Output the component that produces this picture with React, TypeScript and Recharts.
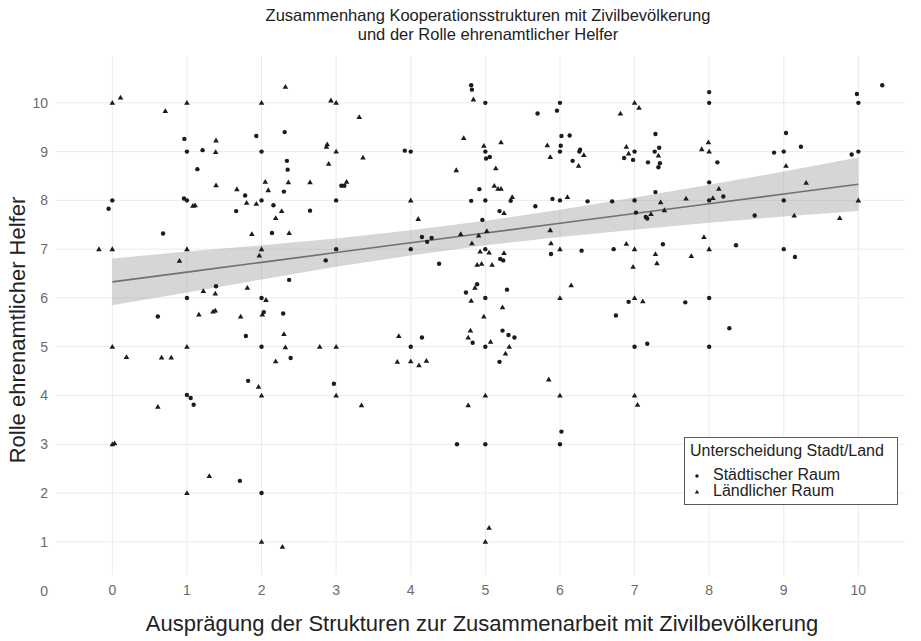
import React from "react";
import { ComposedChart, Scatter, Area, Line, XAxis, YAxis, CartesianGrid } from "recharts";

// axis ticks
const xTicks = [0, 1, 2, 3, 4, 5, 6, 7, 8, 9, 10];
const yTicks = [0, 1, 2, 3, 4, 5, 6, 7, 8, 9, 10];
const yGrid = [1, 2, 3, 4, 5, 6, 7, 8, 9, 10];

// Städtischer Raum (circles): [x, y]
const staedtisch: [number, number][] = [
  [0.965, 9.26], [1.93, 9.32], [2.31, 9.4], [1, 9], [1.21, 9.03], [2, 9],
  [1.14, 8.64], [2.34, 8.81], [2.35, 8.63], [2.3, 8.18], [3.07, 8.3], [3.11, 8.3],
  [1.78, 8.1], [0, 8], [-0.05, 7.83], [0.96, 8.04], [1, 8], [1.66, 7.78],
  [2, 8], [2.16, 7.9], [2.65, 7.79], [3, 8], [0.68, 7.32], [2.14, 7.33],
  [4.81, 10.36], [4.82, 10.27], [5, 10], [6, 10], [5.96, 9.84], [5.7, 9.78],
  [6.02, 9.32], [6.13, 9.33], [5, 9], [5.01, 8.86], [5.06, 8.89], [6.01, 9.12],
  [6, 9], [6.26, 9.0], [6.27, 9.04], [6.17, 8.81], [3.92, 9.02], [4, 9],
  [6.86, 8.87], [4.92, 8.23], [5.34, 7.99], [4.81, 7.99], [5, 8], [5.67, 7.88],
  [5.9, 8.03], [6, 8], [6.37, 7.98], [6.7, 7.98], [5.19, 7.78], [4.96, 7.6],
  [4.15, 7.25], [4.28, 7.23],
  [8, 10.22], [8, 10], [10.32, 10.36], [9.98, 10.18], [10, 10], [7.28, 9.36],
  [7, 9], [6.98, 8.83], [7.27, 9.0], [7.33, 9.08], [7.18, 8.78], [7.34, 8.76],
  [7.32, 8.68], [8.11, 8.78], [8.87, 8.98], [9, 9], [9.03, 9.38], [9.23, 9.1],
  [9.91, 8.94], [10, 9], [8, 8.37], [7.28, 8.17], [8.19, 8.08], [8, 8],
  [7, 8], [7.02, 7.75], [7.15, 7.66], [7.17, 7.63], [8.61, 7.69], [9, 8],
  [3, 7], [2.86, 6.77], [2.37, 6.37], [1.39, 6.24], [1, 6], [2, 6],
  [0.61, 5.62], [2.03, 5.71], [2.29, 5.68], [1.79, 5.22], [2, 5], [2.39, 4.77],
  [1.82, 4.3], [1, 4.01], [1.05, 3.95], [1.09, 3.81], [2.97, 4.24],
  [4.22, 7.15], [4, 7], [5, 7], [5.2, 6.8], [5.24, 6.77], [4.38, 6.7],
  [5.88, 6.9], [6.29, 6.97], [6.72, 7.0], [4.89, 6.28], [4.74, 6.11], [5, 6],
  [5.29, 6.17], [6.92, 5.92], [6.75, 5.64], [4.15, 5.19], [4, 5], [4.83, 5.08],
  [5, 5], [5.23, 5.33], [5.31, 5.24], [5.39, 5.19], [5.19, 4.69],
  [7.38, 7.1], [8.36, 7.08], [9, 7], [9.15, 6.84], [7.68, 5.91], [8, 6],
  [8.27, 5.38], [7, 5], [7.17, 5.06], [8, 5],
  [1.71, 2.25], [2, 2], [4.62, 3], [5, 3], [6, 3], [6.02, 3.26],
];

// Ländlicher Raum (triangles): [x, y]
const laendlich: [number, number][] = [
  [0, 10], [0.11, 10.11], [0.71, 9.83], [1, 10], [2, 10], [2.32, 10.33],
  [2.93, 10.05], [3, 10], [3.31, 9.71], [1.39, 9.23], [1.385, 8.99], [2.87, 9.1],
  [2.88, 9.15], [3, 9], [2.9, 8.75], [1.39, 8.31], [1.67, 8.23], [2.05, 8.38],
  [2.09, 8.21], [2.36, 8.37], [2.65, 8.37], [3.14, 8.38], [1.08, 7.89], [1.11, 7.9],
  [1.8, 7.95], [1.93, 7.93], [2.27, 7.78], [2.19, 7.64], [1.87, 7.31], [2.37, 7.33],
  [3.36, 8.88], [4.84, 10.07], [6.81, 9.78], [4.71, 9.28], [5.21, 9.19], [4.98, 9.12],
  [5.83, 9.13], [5.87, 8.89], [6.32, 8.93], [6.25, 8.71], [4.61, 8.62], [5.14, 8.66],
  [6.89, 9.1], [6.92, 8.96], [5.12, 8.3], [5.17, 8.24], [5.21, 8.24], [5.36, 8.07],
  [4, 8], [6.1, 8.07], [5.25, 7.74], [4.1, 7.62], [4.67, 7.31], [4.91, 7.28],
  [5.02, 7.37], [5.87, 7.39],
  [7, 10], [7.06, 9.9], [7.32, 8.92], [7.9, 9.05], [7.99, 9.19], [8, 9],
  [9.03, 8.71], [8.13, 8.24], [8.05, 8.05], [7.69, 8.04], [7.35, 7.96], [7.4, 7.8],
  [7.22, 7.72], [9.3, 8.36], [9.14, 7.69], [9.75, 7.64], [10, 8], [7.93, 7.25],
  [-0.18, 7.0], [0, 7], [1, 7], [2, 7], [0.9, 6.76], [1.97, 6.87],
  [1.22, 6.14], [1.38, 6.09], [1.81, 6.21], [2.06, 5.96], [1.16, 5.66], [1.35, 5.72],
  [1.38, 5.74], [1.72, 5.62], [2.01, 5.66], [2.3, 5.26], [0, 5], [1, 5],
  [2.32, 4.99], [2.78, 5.0], [3, 5], [0.19, 4.79], [0.66, 4.78], [0.79, 4.78],
  [2.19, 4.7], [1.96, 4.18], [2, 4], [3, 4], [0.61, 3.77],
  [4.82, 7.12], [4.93, 6.95], [5.05, 6.93], [5.25, 6.92], [4.89, 6.68], [4.95, 6.7],
  [5.09, 6.68], [5.88, 7.12], [6, 7], [6.89, 7.11], [4.86, 6.21], [4.81, 5.94],
  [6, 6], [6.15, 6.26], [5.23, 5.81], [4.98, 5.62], [3.84, 5.22], [4.8, 5.33],
  [4.77, 5.19], [5.07, 5.1], [5.32, 5.0], [5.27, 4.86], [3.82, 4.69], [4.0, 4.7],
  [4.11, 4.62], [4.21, 4.71], [5.85, 4.33], [5, 4], [6, 4], [3.34, 3.8], [4.77, 3.8],
  [7, 7], [7.28, 6.9], [7.3, 6.71], [6.98, 6.64], [7.76, 6.86], [8, 7],
  [7, 6], [7.11, 5.93], [7, 4], [7.04, 3.81],
  [0, 3], [0.03, 3.02], [1.3, 2.35], [1, 2], [2, 1], [2.28, 0.9],
  [5.05, 1.29], [5, 1],
];

// linear fit with confidence band, read at integer x
const fitX = [0, 1, 2, 3, 4, 5, 6, 7, 8, 9, 10];
const fitY = [6.33, 6.53, 6.73, 6.93, 7.13, 7.33, 7.53, 7.73, 7.93, 8.13, 8.33];
const bandLow = [5.85, 6.11, 6.38, 6.64, 6.87, 7.08, 7.25, 7.4, 7.54, 7.67, 7.78];
const bandHigh = [6.81, 6.95, 7.08, 7.22, 7.39, 7.58, 7.81, 8.06, 8.32, 8.59, 8.88];

const fitData = fitX.map((x, i) => ({ x, fit: fitY[i], band: [bandLow[i], bandHigh[i]] }));
const urbanData = staedtisch.map(([x, y]) => ({ x, y }));
const ruralData = laendlich.map(([x, y]) => ({ x, y }));

const pointColor = "#1c1c1c";

const DotShape = (props: any) => <circle cx={props.cx} cy={props.cy} r={2.2} fill={pointColor} />;

const TriShape = (props: any) => {
  const { cx, cy } = props;
  return (
    <polygon
      points={`${cx},${cy - 2.8} ${cx + 2.8},${cy + 2} ${cx - 2.8},${cy + 2}`}
      fill={pointColor}
    />
  );
};

const tickStyle = { fontSize: 14, fill: "#6b6b6b" };

export default function App() {
  return (
    <div
      style={{
        position: "absolute",
        left: 0,
        top: 0,
        width: 921,
        height: 641,
        background: "#fff",
        fontFamily: "'Liberation Sans', Arial, sans-serif",
      }}
    >
      <div
        style={{
          position: "absolute",
          left: 188,
          top: 6,
          width: 600,
          textAlign: "center",
          fontSize: 16.5,
          lineHeight: "19px",
          color: "#222",
        }}
      >
        Zusammenhang Kooperationsstrukturen mit Zivilbevölkerung
        <br />
        und der Rolle ehrenamtlicher Helfer
      </div>

      <ComposedChart
        width={921}
        height={641}
        data={fitData}
        margin={{ top: 56, right: 16, bottom: 0, left: 0 }}
      >
        <CartesianGrid stroke="#ebebeb" strokeWidth={1} horizontalValues={yGrid} verticalValues={xTicks} />
        <XAxis
          type="number"
          dataKey="x"
          domain={[-0.755, 10.625]}
          ticks={xTicks}
          interval={0}
          allowDataOverflow
          axisLine={false}
          tickLine={false}
          tickMargin={4}
          height={66}
          tick={tickStyle}
        />
        <YAxis
          type="number"
          domain={[0.32, 10.96]}
          ticks={yTicks}
          interval={0}
          allowDataOverflow
          axisLine={false}
          tickLine={false}
          tickMargin={2}
          width={56}
          tick={tickStyle}
        />
        <Scatter data={urbanData} dataKey="y" shape={DotShape} isAnimationActive={false} />
        <Scatter data={ruralData} dataKey="y" shape={TriShape} isAnimationActive={false} />
        <Area
          type="linear"
          dataKey="band"
          stroke="none"
          fill="#999999"
          fillOpacity={0.4}
          isAnimationActive={false}
        />
        <Line
          type="linear"
          dataKey="fit"
          stroke="#707070"
          strokeWidth={1.6}
          dot={false}
          activeDot={false}
          isAnimationActive={false}
        />
      </ComposedChart>

      <div
        style={{
          position: "absolute",
          left: -182,
          top: 317,
          width: 400,
          height: 26,
          lineHeight: "26px",
          textAlign: "center",
          fontSize: 22,
          color: "#222",
          transform: "rotate(-90deg)",
        }}
      >
        Rolle ehrenamtlicher Helfer
      </div>

      <div
        style={{
          position: "absolute",
          left: 82,
          top: 611,
          width: 800,
          lineHeight: "26px",
          textAlign: "center",
          fontSize: 22,
          color: "#222",
        }}
      >
        Ausprägung der Strukturen zur Zusammenarbeit mit Zivilbevölkerung
      </div>

      <div
        style={{
          position: "absolute",
          left: 684,
          top: 437,
          width: 214,
          height: 68,
          boxSizing: "border-box",
          border: "1.5px solid #5a5a5a",
          background: "#fff",
          fontSize: 16,
          color: "#222",
        }}
      >
        <div style={{ position: "absolute", left: 5, top: 4, lineHeight: "18px", whiteSpace: "nowrap" }}>
          Unterscheidung Stadt/Land
        </div>
        <svg style={{ position: "absolute", left: 8, top: 34 }} width={8} height={8}>
          <circle cx={4} cy={4} r={1.7} fill={pointColor} />
        </svg>
        <div style={{ position: "absolute", left: 28, top: 28, lineHeight: "18px", whiteSpace: "nowrap" }}>
          Städtischer Raum
        </div>
        <svg style={{ position: "absolute", left: 8, top: 50 }} width={8} height={8}>
          <polygon points="4,1.8 6.2,5.6 1.8,5.6" fill={pointColor} />
        </svg>
        <div style={{ position: "absolute", left: 28, top: 44, lineHeight: "18px", whiteSpace: "nowrap" }}>
          Ländlicher Raum
        </div>
      </div>
    </div>
  );
}
